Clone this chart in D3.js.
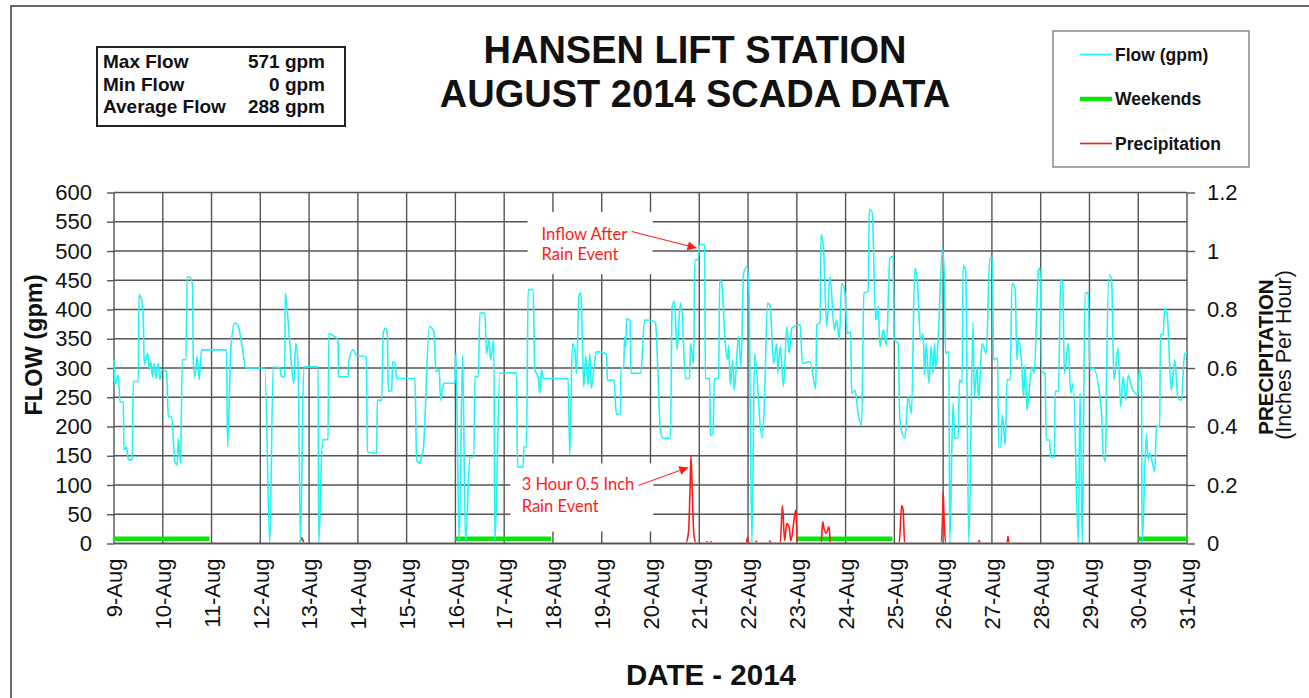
<!DOCTYPE html>
<html><head><meta charset="utf-8">
<script src="https://cdnjs.cloudflare.com/ajax/libs/d3/7.8.5/d3.min.js"></script>
<style>body{margin:0;background:#fff}svg{display:block}</style>
</head><body><svg id="c" width="1309" height="698"></svg>
<script>
// ---------- DATA ----------
const dayLabels = ["9-Aug","10-Aug","11-Aug","12-Aug","13-Aug","14-Aug","15-Aug","16-Aug","17-Aug","18-Aug","19-Aug","20-Aug","21-Aug","22-Aug","23-Aug","24-Aug","25-Aug","26-Aug","27-Aug","28-Aug","29-Aug","30-Aug","31-Aug"];
const flowTicks = [0,50,100,150,200,250,300,350,400,450,500,550,600];
const precipTicks = [0,0.2,0.4,0.6,0.8,1,1.2];
const precipTickLabels = ["0","0.2","0.4","0.6","0.8","1","1.2"];

// flow: day offset from 9-Aug 00:00, gpm
const flowDay = [0,0.014,0.089,0.123,0.191,0.205,0.259,0.294,0.362,0.375,0.396,0.498,0.512,0.567,0.601,0.621,0.689,0.724,0.751,0.792,0.826,0.86,0.908,0.942,0.976,1.078,1.113,1.181,1.249,1.297,1.317,1.365,1.399,1.474,1.502,1.57,1.611,1.625,1.659,1.706,1.747,1.795,2.307,2.328,2.396,2.478,2.546,2.648,2.696,3.092,3.195,3.263,3.399,3.433,3.502,3.509,3.604,3.686,3.727,3.775,3.823,3.891,4.184,4.198,4.273,4.389,4.403,4.457,4.594,4.601,4.799,4.819,4.901,4.969,5.174,5.195,5.386,5.399,5.488,5.522,5.577,5.604,5.625,5.693,5.713,5.761,5.795,6.171,6.205,6.273,6.307,6.341,6.464,6.56,6.601,6.669,6.696,6.765,6.99,7.01,7.078,7.147,7.208,7.297,7.379,7.399,7.468,7.502,7.604,7.638,7.693,7.72,7.788,7.809,7.911,8.253,8.273,8.389,8.403,8.457,8.491,8.594,8.628,8.696,8.73,8.765,8.799,9.311,9.345,9.399,9.447,9.481,9.536,9.577,9.597,9.631,9.672,9.72,9.754,9.788,9.836,9.891,10.1,10.115,10.25,10.3,10.386,10.393,10.45,10.47,10.49,10.51,10.58,10.6,10.8,10.88,11.07,11.102,11.204,11.259,11.409,11.443,11.491,11.545,11.613,11.648,11.716,11.804,11.818,11.886,11.907,11.975,12.009,12.111,12.125,12.213,12.227,12.282,12.309,12.397,12.418,12.459,12.534,12.581,12.602,12.636,12.684,12.718,12.806,12.854,12.909,12.977,13.018,13.079,13.134,13.284,13.331,13.399,13.454,13.522,13.59,13.611,13.659,13.727,13.795,13.843,13.897,14.068,14.115,14.272,14.388,14.409,14.477,14.497,14.545,14.613,14.681,14.77,14.817,14.872,14.92,14.988,15.035,15.104,15.124,15.193,15.26,15.329,15.376,15.465,15.485,15.547,15.615,15.669,15.704,15.772,15.84,15.908,15.976,15.997,16.078,16.112,16.215,16.283,16.351,16.419,16.469,16.537,16.591,16.619,16.653,16.707,16.755,16.796,16.823,16.85,16.891,16.986,17.027,17.048,17.116,17.136,17.204,17.238,17.307,17.334,17.388,17.409,17.463,17.525,17.613,17.64,17.695,17.729,17.797,17.886,17.954,18.008,18.035,18.117,18.138,18.185,18.213,18.274,18.308,18.376,18.41,18.478,18.512,18.546,18.614,18.649,18.683,18.717,18.819,18.866,18.955,18.989,19.023,19.091,19.112,19.18,19.207,19.282,19.296,19.364,19.411,19.452,19.486,19.567,19.615,19.67,19.772,19.806,19.854,19.908,19.976,20.011,20.079,20.249,20.283,20.331,20.351,20.406,20.454,20.501,20.59,20.638,20.692,20.747,20.794,20.862,20.999,21.019,21.067,21.08,21.169,21.203,21.237,21.339,21.373,21.441,21.454,21.509,21.543,21.591,21.679,21.748,21.816,21.884,21.952,22];
const flowGpm = [314,271,288,242,242,160,165,143,143,151,277,277,425,416,382,305,325,297,311,285,308,282,308,280,297,294,217,217,140,134,180,137,314,314,456,454,439,314,285,320,280,331,331,165,334,377,371,325,300,300,0,301,301,285,285,428,342,274,342,305,0,302,302,0,177,178,359,357,348,285,285,314,331,322,319,157,154,245,245,362,368,359,260,262,311,308,282,282,143,137,150,160,371,362,294,297,245,274,274,325,0,322,0,148,148,285,285,394,394,325,348,314,348,0,291,292,131,131,165,165,434,434,297,285,257,297,282,282,151,342,331,291,425,428,371,268,320,271,325,265,297,328,324,279,279,221,221,300,300,353,336,384,381,291,291,382,380,377,194,180,180,405,414,331,411,394,282,282,342,308,485,485,511,511,282,282,185,188,282,282,451,445,342,314,339,271,314,262,354,302,462,473,434,0,325,180,228,411,405,308,342,291,337,268,371,325,368,374,308,311,265,374,377,528,508,371,456,365,382,348,445,428,359,362,257,262,220,202,428,431,571,565,382,405,337,365,339,488,491,348,342,211,180,251,222,471,451,348,359,288,342,274,337,291,342,302,337,505,451,325,328,0,240,180,180,280,274,476,465,0,377,251,302,245,342,325,488,488,314,317,165,165,220,168,280,280,445,434,314,348,302,251,305,228,302,291,468,471,294,291,177,177,148,148,260,260,451,445,291,342,257,274,0,257,0,428,428,297,300,222,154,140,291,459,451,280,334,234,285,245,288,268,254,297,280,0,188,143,154,123,200,200,357,357,402,394,262,314,248,245,325,325];

// precipitation: day offset, inches per hour
const precipDay = [0,3.80,3.85,3.90,11.72,11.78,11.81,11.83,11.86,11.89,11.94,12.14,12.16,12.19,12.22,12.24,12.27,12.96,12.99,13.02,13.15,13.17,13.19,13.43,13.45,13.47,13.66,13.706,13.75,13.795,13.843,13.877,13.98,14.01,14.50,14.53,14.56,14.60,14.66,14.69,16.10,16.15,16.18,16.21,16.95,16.99,17.00,17.02,17.05,17.72,17.74,17.76,18.31,18.33,18.35,22];
const precipIn  = [0,0,0.02,0,0,0.04,0.18,0.30,0.16,0.03,0,0,0.006,0,0,0.006,0,0,0.02,0,0,0.008,0,0,0.008,0,0,0.13,0.01,0.068,0.055,0.01,0.114,0,0,0.074,0.05,0.035,0.057,0,0,0.13,0.115,0,0,0.1,0.177,0.08,0,0,0.01,0,0,0.025,0,0];

const weekendStart = [0,7,14,21];
const weekendEnd = [1.96,8.96,15.96,22];
const weekendLevel = 8;

const statLabels = ["Max Flow","Min Flow","Average Flow"];
const statValues = ["571 gpm","0 gpm","288 gpm"];
const legendLabels = ["Flow (gpm)","Weekends","Precipitation"];

// ---------- CHART ----------
const W = 1309, H = 698;
const M = {l:114, r:1187, t:192.5, b:543.5};
const FONT = "'Liberation Sans', Arial, sans-serif";
const CYAN = "#22f4f4", RED = "#ff1a1a", GREEN = "#0be40b", GRID = "#555";

const svg = d3.select("#c");
const x = d3.scaleLinear().domain([0, dayLabels.length - 1]).range([M.l, M.r]);
const y = d3.scaleLinear().domain([0, 600]).range([M.b, M.t]);
const y2 = d3.scaleLinear().domain([0, 1.2]).range([M.b, M.t]);

svg.append("rect").attr("width", W).attr("height", H).attr("fill", "#fff");
svg.append("rect").attr("x", 11).attr("y", 6).attr("width", 1400).attr("height", 800)
  .attr("fill", "none").attr("stroke", "#3a3a3a").attr("stroke-width", 1.5);

const defs = svg.append("defs");
defs.append("clipPath").attr("id", "pclip").append("rect")
  .attr("x", M.l).attr("y", M.t - 5).attr("width", M.r - M.l).attr("height", M.b - M.t + 5 - 1.2);

// grid
const grid = svg.append("g").attr("stroke", GRID).attr("stroke-width", 1.4);
grid.selectAll("line.h").data(flowTicks).join("line").attr("class", "h")
  .attr("x1", M.l).attr("x2", M.r).attr("y1", d => y(d)).attr("y2", d => y(d));
grid.selectAll("line.v").data(d3.range(dayLabels.length)).join("line").attr("class", "v")
  .attr("x1", d => x(d)).attr("x2", d => x(d)).attr("y1", M.t).attr("y2", M.b);

// axes
const gl = svg.append("g").attr("transform", `translate(${M.l},0)`)
  .call(d3.axisLeft(y).tickValues(flowTicks).tickSize(7).tickPadding(15));
const gr = svg.append("g").attr("transform", `translate(${M.r},0)`)
  .call(d3.axisRight(y2).tickValues(precipTicks).tickSize(8).tickPadding(12).tickFormat((d, i) => precipTickLabels[i]));
const gx = svg.append("g").attr("transform", `translate(0,${M.b})`)
  .call(d3.axisBottom(x).tickValues(d3.range(dayLabels.length)).tickFormat(i => dayLabels[i]).tickSize(0));
[gl, gr, gx].forEach(g => {
  g.select(".domain").remove();
  g.selectAll("line").attr("stroke", GRID).attr("stroke-width", 1.4);
  g.selectAll("text").attr("fill", "#111").style("font-family", FONT).style("font-size", "22px");
});
gx.selectAll("text").attr("transform", "rotate(-90)").attr("x", -15).attr("y", 0)
  .attr("dy", "0.35em").attr("text-anchor", "end");

// annotation masks (hide grid behind notes)
const notes = [
  {lines: ["Inflow After", "Rain Event"], day: 11.945, gpm: 505, tx: -155, ty: [-8, 12], ax: -65, ay: -16.6, box: [-169, -36, 125, 62]},
  {lines: ["3 Hour 0.5 Inch", "Rain Event"], day: 11.775, gpm: 130, tx: -166.6, ty: [22.7, 44.4], ax: -50, ay: 18, box: [-178, -4, 143, 68]}
];
notes.forEach(n => {
  const px = x(n.day), py = y(n.gpm);
  svg.append("rect").attr("x", px + n.box[0]).attr("y", py + n.box[1])
    .attr("width", n.box[2]).attr("height", n.box[3]).attr("fill", "#fff");
});

// weekends
svg.append("g").selectAll("line").data(weekendStart).join("line")
  .attr("x1", d => x(d)).attr("x2", (d, i) => x(weekendEnd[i]))
  .attr("y1", y(weekendLevel)).attr("y2", y(weekendLevel))
  .attr("stroke", GREEN).attr("stroke-width", 4.5);

// precipitation
const precipPts = precipDay.map((d, i) => [d, precipIn[i]]);
svg.append("path").datum(precipPts).attr("clip-path", "url(#pclip)")
  .attr("d", d3.line().x(d => x(d[0])).y(d => y2(d[1])).curve(d3.curveMonotoneX))
  .attr("fill", "none").attr("stroke", RED).attr("stroke-width", 1.6);

// flow
const flowPts = flowDay.map((d, i) => [d, flowGpm[i]]);
svg.append("path").datum(flowPts)
  .attr("d", d3.line().x(d => x(d[0])).y(d => y(d[1])).curve(d3.curveMonotoneX))
  .attr("fill", "none").attr("stroke", CYAN).attr("stroke-width", 1.6);

// baseline over zero values
svg.append("line").attr("x1", M.l).attr("x2", M.r).attr("y1", y(0)).attr("y2", y(0))
  .attr("stroke", GRID).attr("stroke-width", 1.4);

// annotation text + arrows
defs.append("marker").attr("id", "arr").attr("viewBox", "0 0 10 10").attr("refX", 10).attr("refY", 5)
  .attr("markerWidth", 11).attr("markerHeight", 9).attr("markerUnits", "userSpaceOnUse").attr("orient", "auto")
  .append("path").attr("d", "M0,0L10,5L0,10z").attr("fill", RED);
notes.forEach(n => {
  const px = x(n.day), py = y(n.gpm);
  n.lines.forEach((t, i) => {
    svg.append("text").attr("x", px + n.tx).attr("y", py + n.ty[i])
      .attr("fill", RED).style("font-family", "Lato, 'Open Sans', sans-serif").style("font-size", "16.5px").text(t);
  });
  svg.append("line").attr("x1", px + n.ax).attr("y1", py + n.ay).attr("x2", px).attr("y2", py)
    .attr("stroke", RED).attr("stroke-width", 1).attr("marker-end", "url(#arr)");
});

// titles
svg.append("text").attr("x", 695).attr("y", 63).attr("text-anchor", "middle")
  .style("font", `bold 38px ${FONT}`).attr("fill", "#111").text("HANSEN LIFT STATION");
svg.append("text").attr("x", 695).attr("y", 107).attr("text-anchor", "middle")
  .style("font", `bold 38px ${FONT}`).attr("fill", "#111").text("AUGUST 2014 SCADA DATA");
svg.append("text").attr("transform", "translate(42,345) rotate(-90)").attr("text-anchor", "middle")
  .style("font", `bold 23.5px ${FONT}`).attr("fill", "#111").text("FLOW (gpm)");
svg.append("text").attr("transform", "translate(1273,357) rotate(-90)").attr("text-anchor", "middle")
  .style("font", `bold 20.5px ${FONT}`).attr("fill", "#111").text("PRECIPITATION");
svg.append("text").attr("transform", "translate(1291,355) rotate(-90)").attr("text-anchor", "middle")
  .style("font", `21.5px ${FONT}`).attr("fill", "#111").text("(Inches Per Hour)");
svg.append("text").attr("x", 711).attr("y", 685).attr("text-anchor", "middle")
  .style("font", `bold 29.5px ${FONT}`).attr("fill", "#111").text("DATE - 2014");

// stats box
svg.append("rect").attr("x", 97).attr("y", 47).attr("width", 248).attr("height", 79)
  .attr("fill", "#fff").attr("stroke", "#222").attr("stroke-width", 2);
statLabels.forEach((t, i) => {
  svg.append("text").attr("x", 103).attr("y", 68 + i * 22.5)
    .style("font", `bold 19px ${FONT}`).attr("fill", "#111").text(t);
  svg.append("text").attr("x", 325).attr("y", 68 + i * 22.5).attr("text-anchor", "end")
    .style("font", `bold 19px ${FONT}`).attr("fill", "#111").text(statValues[i]);
});

// legend
svg.append("rect").attr("x", 1053).attr("y", 31).attr("width", 196).attr("height", 136)
  .attr("fill", "#fff").attr("stroke", "#888").attr("stroke-width", 1.5);
const legColors = [CYAN, GREEN, RED], legWidths = [1.6, 4.5, 1.6];
legendLabels.forEach((t, i) => {
  const ly = 54.5 + i * 44.5;
  svg.append("line").attr("x1", 1080).attr("x2", 1112).attr("y1", ly).attr("y2", ly)
    .attr("stroke", legColors[i]).attr("stroke-width", legWidths[i]);
  svg.append("text").attr("x", 1115).attr("y", ly + 6)
    .style("font", `bold 17.5px ${FONT}`).attr("fill", "#111").text(t);
});
</script></body></html>
